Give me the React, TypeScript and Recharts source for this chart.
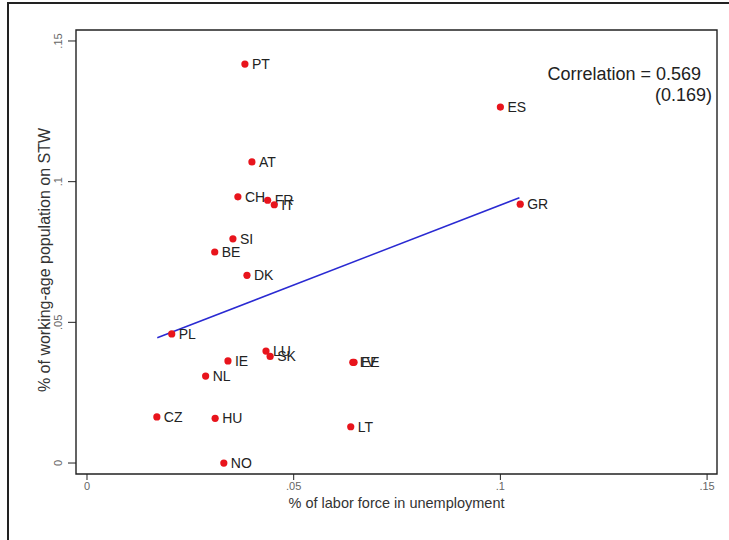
import React from "react";
import { ScatterChart, Scatter, XAxis, YAxis, ReferenceArea } from "recharts";

// country codes with unemployment rate (x) and share of working-age population on STW (y)
const COUNTRIES = ["PT", "ES", "AT", "CH", "FR", "IT", "GR", "SI", "BE", "DK", "PL", "LU", "SK", "IE", "LV", "EE", "NL", "CZ", "HU", "LT", "NO"];
const UNEMPLOYMENT = [0.0382, 0.1, 0.0399, 0.0365, 0.0437, 0.0453, 0.1048, 0.0353, 0.0309, 0.0387, 0.0205, 0.0433, 0.0443, 0.0341, 0.0643, 0.0646, 0.0287, 0.0169, 0.031, 0.0638, 0.0331];
const STW = [0.1418, 0.1265, 0.107, 0.0946, 0.0934, 0.0918, 0.092, 0.0797, 0.075, 0.0667, 0.0459, 0.0398, 0.0379, 0.0363, 0.0358, 0.0358, 0.0309, 0.0164, 0.0159, 0.0129, 0];

// fitted line endpoints
const FIT_X = [0.017, 0.1046];
const FIT_Y = [0.0445, 0.0943];

const X_TICKS = [0, 0.05, 0.1, 0.15];
const Y_TICKS = [0, 0.05, 0.1, 0.15];
const X_DOMAIN: [number, number] = [-0.00266, 0.1524];
const Y_DOMAIN: [number, number] = [-0.0039, 0.1539];

const points = COUNTRIES.map((name, i) => ({ name, x: UNEMPLOYMENT[i], y: STW[i] }));
const fit = FIT_X.map((x, i) => ({ x, y: FIT_Y[i] }));

const FONT = "'Liberation Sans', Arial, Helvetica, sans-serif";

const fmt = (v: number) => (v === 0 ? "0" : String(v).replace(/^0/, ""));

function Dot(props: any) {
  const { cx, cy, payload } = props;
  return (
    <g>
      <circle cx={cx} cy={cy} r={3.6} fill="#e8141c" />
      <text x={cx + 7} y={cy} dominantBaseline="central" fontSize={14} fill="#222" fontFamily={FONT}>
        {payload.name}
      </text>
    </g>
  );
}

function YTick(props: any) {
  const { x, y, payload } = props;
  return (
    <text x={x - 4} y={y} transform={`rotate(-90 ${x - 4} ${y})`} textAnchor="middle" fontSize={11} fill="#666" fontFamily={FONT}>
      {fmt(payload.value)}
    </text>
  );
}

export default function App() {
  return (
    <div style={{ position: "absolute", left: 0, top: 0, width: 729, height: 540, overflow: "hidden", background: "#fff" }}>
      <div style={{ position: "absolute", left: 7, top: 2, width: 800, height: 600, border: "2px solid #222" }} />
      <ScatterChart width={729} height={540} margin={{ top: 30, right: 12, bottom: 36, left: 36 }}>
        <XAxis
          type="number"
          dataKey="x"
          domain={X_DOMAIN}
          ticks={X_TICKS}
          allowDataOverflow
          tickFormatter={fmt}
          tickSize={6}
          tickLine={{ stroke: "#222" }}
          axisLine={false}
          height={30}
          tick={{ fontSize: 11, fill: "#666", fontFamily: FONT }}
          label={{ value: "% of labor force in unemployment", position: "insideBottom", offset: -4, fontSize: 14.5, fill: "#333", fontFamily: FONT }}
        />
        <YAxis
          type="number"
          dataKey="y"
          domain={Y_DOMAIN}
          ticks={Y_TICKS}
          allowDataOverflow
          tickSize={8}
          tickLine={{ stroke: "#222" }}
          axisLine={false}
          width={40}
          tick={<YTick />}
        />
        <ReferenceArea x1={X_DOMAIN[0]} x2={X_DOMAIN[1]} y1={Y_DOMAIN[0]} y2={Y_DOMAIN[1]} fill="none" stroke="#222" strokeWidth={1.4} fillOpacity={0} />
        <Scatter data={fit} line={{ stroke: "#2a2ad2", strokeWidth: 1.5 }} shape={() => null} isAnimationActive={false} />
        <Scatter data={points} shape={<Dot />} isAnimationActive={false} />
      </ScatterChart>
      <div
        style={{
          position: "absolute",
          left: 45,
          top: 260,
          transform: "translate(-50%, -50%) rotate(-90deg)",
          whiteSpace: "nowrap",
          fontSize: 16,
          color: "#333",
          fontFamily: FONT,
        }}
      >
        % of working-age population on STW
      </div>
      <div style={{ position: "absolute", right: 17, top: 64, textAlign: "right", fontSize: 18, lineHeight: "21px", color: "#222", fontFamily: FONT }}>
        <div style={{ marginRight: 11 }}>Correlation = 0.569</div>
        <div>(0.169)</div>
      </div>
    </div>
  );
}
